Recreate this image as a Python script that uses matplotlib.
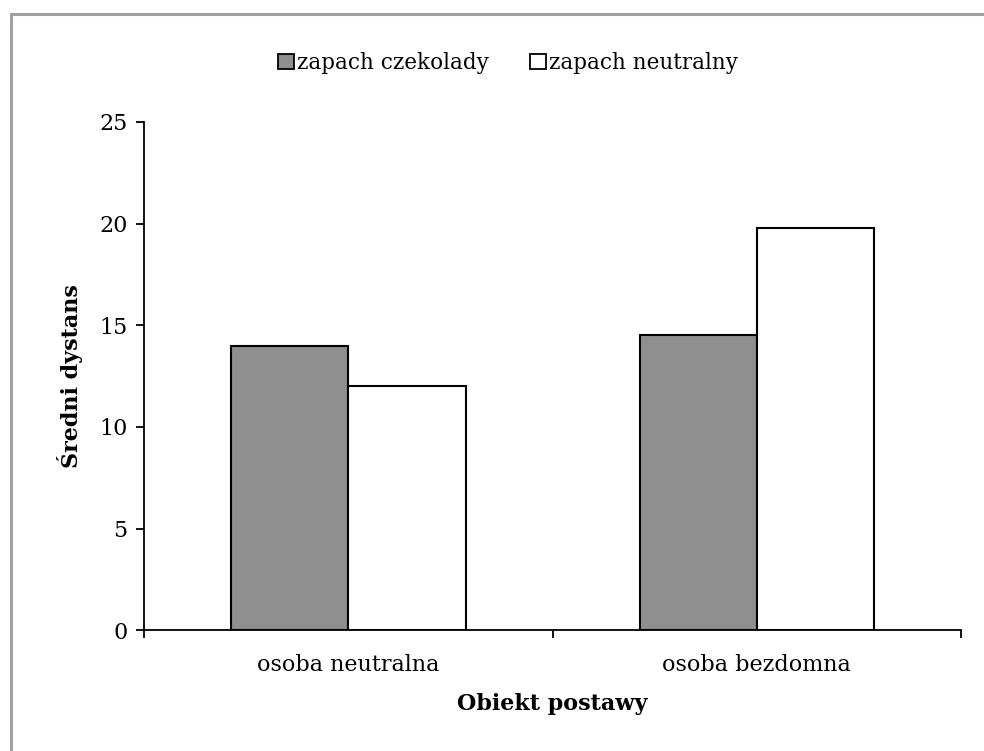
import matplotlib
matplotlib.use("Agg")
import matplotlib.pyplot as plt
from matplotlib.patches import Patch
from matplotlib.lines import Line2D
import numpy as np

plt.rcParams['font.family'] = ['DejaVu Serif']

categories = ["osoba neutralna", "osoba bezdomna"]
series_names = ["zapach czekolady", "zapach neutralny"]
chocolate = [14.0, 14.5]
neutral = [12.0, 19.8]
y_ticks = [0, 5, 10, 15, 20, 25]

W, H = 984, 751
fig = plt.figure(figsize=(W / 100, H / 100), dpi=100)
ax = fig.add_axes([144.3 / W, 1 - 630.3 / H, (961 - 144.3) / W, (630.3 - 122) / H])

x = np.arange(len(categories))
bw = 0.287
ax.bar(x - bw / 2, chocolate, width=bw, color="#8f8f8f", edgecolor="black", linewidth=1.5, zorder=3)
ax.bar(x + bw / 2, neutral, width=bw, color="white", edgecolor="black", linewidth=1.5, zorder=3)

ax.set_xlim(-0.5, len(categories) - 0.5)
ax.set_ylim(0, 25)
ax.set_yticks(y_ticks)
ax.set_yticklabels([str(t) for t in y_ticks], fontsize=16)

# category ticks sit between groups; labels are centered under each group
ax.set_xticks(np.arange(-0.5, len(categories), 1.0))
ax.set_xticklabels([])
ax.set_xticks(x, minor=True)
ax.set_xticklabels(categories, minor=True, fontsize=16)
ax.tick_params(axis="x", which="minor", length=0, pad=17)
ax.tick_params(axis="x", which="major", length=6, width=1.3, direction="out")
ax.tick_params(axis="y", length=6, width=1.3, direction="out", pad=6)

for side in ("top", "right"):
    ax.spines[side].set_visible(False)
for side in ("left", "bottom"):
    ax.spines[side].set_linewidth(1.3)

ax.set_xlabel("Obiekt postawy", fontsize=16, fontweight="bold", labelpad=12)
ax.set_ylabel("Średni dystans", fontsize=16, fontweight="bold", labelpad=12)

handles = [Patch(facecolor="#8f8f8f", edgecolor="black", linewidth=1.3),
           Patch(facecolor="white", edgecolor="black", linewidth=1.3)]
fig.legend(handles, series_names, loc="center", bbox_to_anchor=(508 / W, 1 - 63 / H),
           ncol=2, frameon=False, fontsize=15.5, handlelength=0.75, handleheight=0.75,
           handletextpad=0.15, columnspacing=1.9)

# outer frame
fig.add_artist(Line2D([11 / W, 11 / W], [0, 1 - 14 / H], color="#a0a0a0", linewidth=2.2))
fig.add_artist(Line2D([11 / W, 1], [1 - 14 / H, 1 - 14 / H], color="#a0a0a0", linewidth=2.2))

fig.savefig("out.png", dpi=100)
